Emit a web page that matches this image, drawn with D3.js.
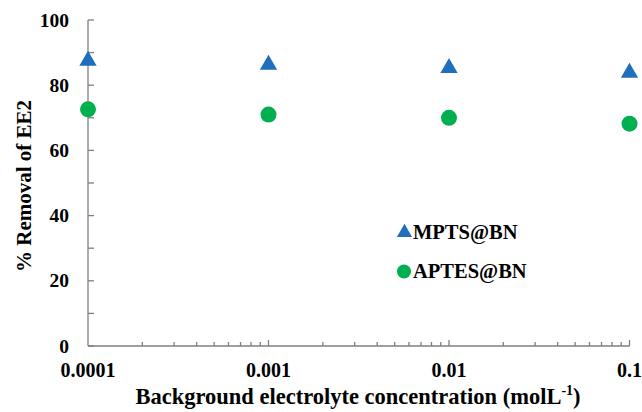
<!DOCTYPE html>
<meta charset="utf-8">
<style>
body { margin: 0; background: #fff; }
svg text { font-family: "Liberation Serif", "Times New Roman", "DejaVu Serif", serif; font-weight: bold; fill: #000; }
.axis line { stroke: #7f7f7f; stroke-width: 1.3; }
</style>
<body>
<div id="chart"></div>
<script src="https://cdn.jsdelivr.net/npm/d3@7"></script>
<script>
var conc = [0.0001, 0.001, 0.01, 0.1];
var mpts = [87.5, 86.3, 85.3, 83.8];
var aptes = [72.6, 71.0, 70.0, 68.2];
var yTicks = [0, 20, 40, 60, 80, 100];
var xLabels = ['0.0001', '0.001', '0.01', '0.1'];

var svg = d3.select('#chart').append('svg')
  .attr('width', 642).attr('height', 412)
  .attr('font-family', '"Liberation Serif", serif');

var x = d3.scaleLog().domain([0.0001, 0.1]).range([88, 629.5]);
var y = d3.scaleLinear().domain([0, 100]).range([346, 20]);

// minor ticks
var minorX = [];
conc.slice(0, 3).forEach(function(d) {
  for (var k = 2; k <= 9; k++) minorX.push(d * k);
});
var minorY = [10, 30, 50, 70, 90];

var gx = svg.append('g').attr('class', 'axis').attr('transform', 'translate(0,346)');
gx.append('line').attr('x1', 88).attr('x2', 629.5).attr('y1', 0).attr('y2', 0);
gx.selectAll('.minor').data(minorX).enter().append('line')
  .attr('x1', d => x(d)).attr('x2', d => x(d)).attr('y1', 0).attr('y2', -4);
gx.selectAll('.major').data(conc.slice(1)).enter().append('line')
  .attr('x1', d => x(d)).attr('x2', d => x(d)).attr('y1', 0).attr('y2', -6);
gx.selectAll('.lbl').data(conc).enter().append('text')
  .attr('x', d => x(d)).attr('y', 31)
  .attr('text-anchor', 'middle')
  .style('font-size', '20px')
  .text((d, i) => xLabels[i]);

var gy = svg.append('g').attr('class', 'axis').attr('transform', 'translate(88,0)');
gy.append('line').attr('x1', 0).attr('x2', 0).attr('y1', 20).attr('y2', 346);
gy.selectAll('.major').data(yTicks).enter().append('line')
  .attr('x1', 0).attr('x2', 6).attr('y1', d => y(d)).attr('y2', d => y(d));
gy.selectAll('.minor').data(minorY).enter().append('line')
  .attr('x1', 0).attr('x2', 6).attr('y1', d => y(d)).attr('y2', d => y(d));
gy.selectAll('.lbl').data(yTicks).enter().append('text')
  .attr('x', -19).attr('y', d => y(d) + 6.5)
  .attr('text-anchor', 'end')
  .style('font-size', '19.5px')
  .text(d => d);

var tri = d3.symbol().type(d3.symbolTriangle).size(130);

svg.selectAll('.mpts').data(mpts).enter().append('path')
  .attr('d', tri)
  .attr('transform', (d, i) => 'translate(' + x(conc[i]) + ',' + y(d) + ')')
  .attr('fill', '#1f6fbd');

svg.selectAll('.aptes').data(aptes).enter().append('circle')
  .attr('cx', (d, i) => x(conc[i])).attr('cy', d => y(d))
  .attr('r', 8).attr('fill', '#00b050');

// legend
svg.append('path').attr('d', d3.symbol().type(d3.symbolTriangle).size(100))
  .attr('transform', 'translate(404.5,232.5)').attr('fill', '#1f6fbd');
svg.append('text').attr('x', 413).attr('y', 238.5).style('font-size', '20.5px').text('MPTS@BN');
svg.append('circle').attr('cx', 404).attr('cy', 271.5).attr('r', 7).attr('fill', '#00b050');
svg.append('text').attr('x', 413).attr('y', 278).style('font-size', '20.5px').text('APTES@BN');

// axis titles
var xt = svg.append('text').attr('x', 358).attr('y', 404).attr('text-anchor', 'middle')
  .style('font-size', '22.5px');
xt.append('tspan').text('Background electrolyte concentration (molL');
xt.append('tspan').attr('dy', -9).style('font-size', '14px').text('-1');
xt.append('tspan').attr('dy', 9).text(')');

svg.append('text')
  .attr('transform', 'translate(31,186) rotate(-90)')
  .attr('text-anchor', 'middle')
  .style('font-size', '21px')
  .text('% Removal of EE2');
</script>
</body>
